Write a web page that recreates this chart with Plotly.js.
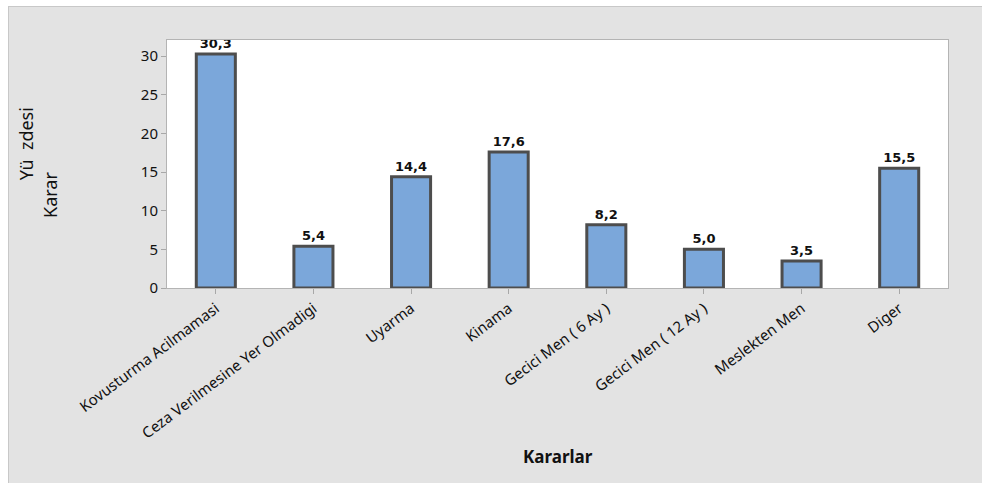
<!DOCTYPE html>
<html>
<head>
<meta charset="utf-8">
<script src="https://cdn.plot.ly/plotly-3.0.1.min.js"></script>
<style>
  html, body { margin: 0; padding: 0; background: #ffffff; }
  #wrap { position: absolute; left: 8px; top: 6px; width: 973px; height: 476px;
          border-top: 1px solid #c8c8c8; border-left: 1px solid #c8c8c8; background: #e3e3e3; }
  #chart { width: 973px; height: 476px; }
</style>
</head>
<body>
<div id="wrap"><div id="chart"></div></div>
<script>
const categories = [
  "Kovusturma Acilmamasi",
  "Ceza Verilmesine Yer Olmadigi",
  "Uyarma",
  "Kinama",
  "Gecici Men ( 6 Ay )",
  "Gecici Men ( 12 Ay )",
  "Meslekten Men",
  "Diger"
];
const values = [30.3, 5.4, 14.4, 17.6, 8.2, 5.0, 3.5, 15.5];
const yTicks = [0, 5, 10, 15, 20, 25, 30];
const labels = values.map(v => v.toFixed(1).replace('.', ','));

const trace = {
  type: 'bar',
  x: categories,
  y: values,
  text: labels,
  textposition: 'outside',
  cliponaxis: false,
  textfont: { family: 'DejaVu Sans', size: 13, color: '#111111', weight: 'bold' },
  marker: { color: '#7ba7da', line: { color: '#4d4d4d', width: 3 } },
  width: 0.4,
  hoverinfo: 'none'
};

const layout = {
  width: 973, height: 476,
  margin: { l: 158, r: 34, t: 33, b: 195 },
  paper_bgcolor: '#e3e3e3',
  plot_bgcolor: '#ffffff',
  showlegend: false,
  font: { family: 'Noto Sans', color: '#111111' },
  xaxis: {
    type: 'category',
    range: [-0.5, 7.5],
    tickangle: -37,
    ticks: 'outside', ticklen: 5, tickcolor: '#a8a8a8',
    tickfont: { size: 15, family: 'Noto Sans' },
    showline: true, linecolor: '#b4b4b4', linewidth: 1, mirror: true,
    showgrid: false, zeroline: false,
    automargin: false
  },
  yaxis: {
    range: [0, 32.1],
    tickvals: yTicks,
    ticktext: yTicks.map(String),
    ticks: 'outside', ticklen: 5, tickcolor: '#a8a8a8',
    tickfont: { size: 15, family: 'Noto Sans' },
    showline: true, linecolor: '#b4b4b4', linewidth: 1, mirror: true,
    showgrid: false, zeroline: false,
    automargin: false
  },
  annotations: [
    { xref: 'paper', yref: 'paper', x: -0.1805, y: 0.58, text: 'Yü&nbsp;&nbsp;zdesi',
      textangle: -90, showarrow: false, xanchor: 'center', yanchor: 'middle',
      font: { family: 'Noto Sans', size: 18, color: '#111111' } },
    { xref: 'paper', yref: 'paper', x: -0.1498, y: 0.375, text: 'Karar',
      textangle: -90, showarrow: false, xanchor: 'center', yanchor: 'middle',
      font: { family: 'Noto Sans', size: 18, color: '#111111' } },
    { xref: 'paper', yref: 'paper', x: 0.5, y: -0.681, text: '<b>Kararlar</b>',
      showarrow: false, xanchor: 'center', yanchor: 'middle',
      font: { family: 'Noto Sans', size: 17, color: '#111111' } }
  ]
};

Plotly.newPlot('chart', [trace], layout, { displayModeBar: false, staticPlot: true });
</script>
</body>
</html>
